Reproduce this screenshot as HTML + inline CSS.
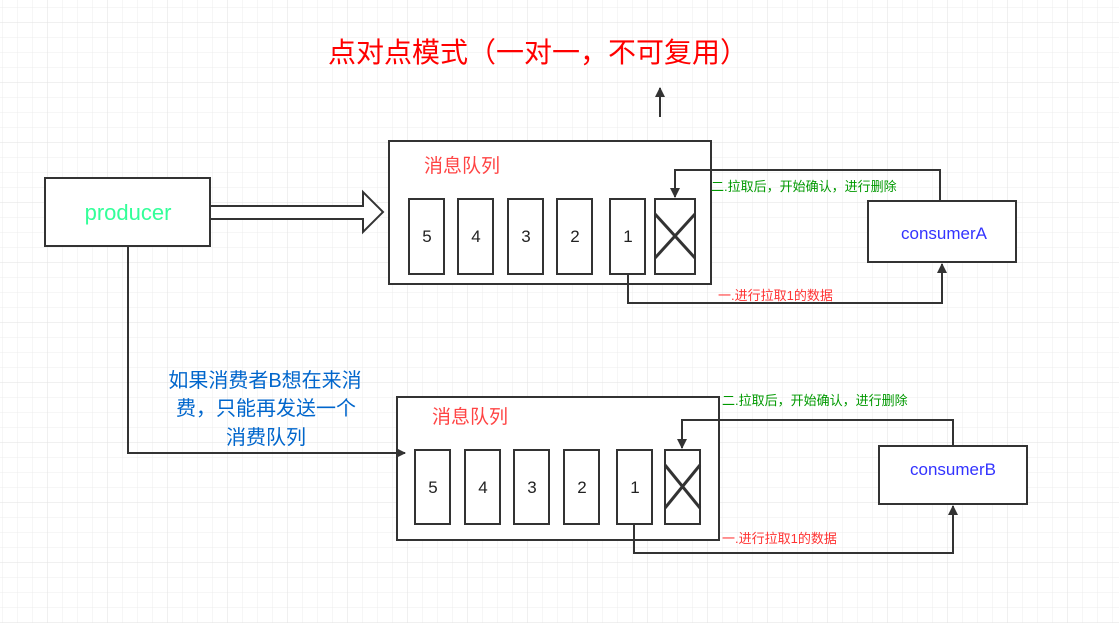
<!DOCTYPE html>
<html><head><meta charset="utf-8"><style>
html,body{margin:0;padding:0;background:#fff;}
svg{display:block;}
text{font-family:"Liberation Sans","Noto Sans CJK SC",sans-serif;}
</style></head><body>
<svg width="1119" height="623" viewBox="0 0 1119 623" xmlns="http://www.w3.org/2000/svg">
<defs>
<pattern id="g" width="15" height="15" patternUnits="userSpaceOnUse" x="2" y="7">
<path d="M0 0H15M0 0V15" stroke="#ececec" stroke-width="1" fill="none"/>
</pattern>
<pattern id="G" width="60" height="60" patternUnits="userSpaceOnUse" x="47" y="22">
<path d="M0 0H60M0 0V60" stroke="#e2e2e2" stroke-width="1" fill="none"/>
</pattern>
<marker id="a" markerWidth="10" markerHeight="10" refX="9" refY="5" orient="auto" markerUnits="userSpaceOnUse"><path d="M0 0L10 5L0 10Z" fill="#333"/></marker>
</defs>
<rect width="1119" height="623" fill="url(#g)"/>
<rect width="1119" height="623" fill="url(#G)"/>

<text x="538" y="62" font-size="28" fill="#f00" text-anchor="middle">点对点模式（一对一，不可复用）</text>
<line x1="660" y1="117" x2="660" y2="88" stroke="#333" stroke-width="2" marker-end="url(#a)"/>

<g stroke="#333" stroke-width="2" fill="#fff">
<rect x="45" y="178" width="165" height="68"/>
<path d="M210 206H363V192L383 212L363 232V219H210Z"/>
<rect x="389" y="141" width="322" height="143"/>
<rect x="409" y="199" width="35" height="75"/>
<rect x="458" y="199" width="35" height="75"/>
<rect x="508" y="199" width="35" height="75"/>
<rect x="557" y="199" width="35" height="75"/>
<rect x="610" y="199" width="35" height="75"/>
<rect x="655" y="199" width="40" height="75"/>
<rect x="868" y="201" width="148" height="61"/>

<rect x="397" y="397" width="322" height="143"/>
<rect x="415" y="450" width="35" height="74"/>
<rect x="465" y="450" width="35" height="74"/>
<rect x="514" y="450" width="35" height="74"/>
<rect x="564" y="450" width="35" height="74"/>
<rect x="617" y="450" width="35" height="74"/>
<rect x="665" y="450" width="35" height="74"/>
<rect x="879" y="446" width="148" height="58"/>
</g>
<g stroke="#333" stroke-width="3">
<line x1="655" y1="214" x2="695" y2="258"/><line x1="695" y1="214" x2="655" y2="258"/>
<line x1="665" y1="465" x2="700" y2="508"/><line x1="700" y1="465" x2="665" y2="508"/>
</g>
<g stroke="#333" stroke-width="2" fill="none">
<path d="M940 201V170H675V197" marker-end="url(#a)"/>
<path d="M628 274V303H942V264" marker-end="url(#a)"/>
<path d="M953 446V420H682V448" marker-end="url(#a)"/>
<path d="M634 524V553H953V506" marker-end="url(#a)"/>
<path d="M128 246V453H405" marker-end="url(#a)"/>
</g>
<text x="128" y="220" font-size="22" fill="#3f9" text-anchor="middle" style="fill:#33ff99">producer</text>
<g font-size="17" fill="#222" text-anchor="middle">
<text x="427" y="242">5</text><text x="476" y="242">4</text><text x="526" y="242">3</text><text x="575" y="242">2</text><text x="628" y="242">1</text>
<text x="433" y="493">5</text><text x="483" y="493">4</text><text x="532" y="493">3</text><text x="582" y="493">2</text><text x="635" y="493">1</text>
</g>
<text x="424" y="172" font-size="19" fill="#f44">消息队列</text>
<text x="432" y="423" font-size="19" fill="#f44">消息队列</text>
<text x="944" y="239" font-size="17" fill="#33f" text-anchor="middle">consumerA</text>
<text x="953" y="475" font-size="17" fill="#33f" text-anchor="middle">consumerB</text>
<text x="711" y="191" font-size="13" fill="#090">二.拉取后，开始确认，进行删除</text>
<text x="722" y="405" font-size="13" fill="#090">二.拉取后，开始确认，进行删除</text>
<text x="718" y="300" font-size="13" fill="#f33">一.进行拉取1的数据</text>
<text x="722" y="543" font-size="13" fill="#f33">一.进行拉取1的数据</text>
<g font-size="20" fill="#0066cc" text-anchor="middle">
<text x="265" y="387">如果消费者B想在来消</text>
<text x="266" y="415">费，只能再发送一个</text>
<text x="266" y="444">消费队列</text>
</g>
</svg>
</body></html>
